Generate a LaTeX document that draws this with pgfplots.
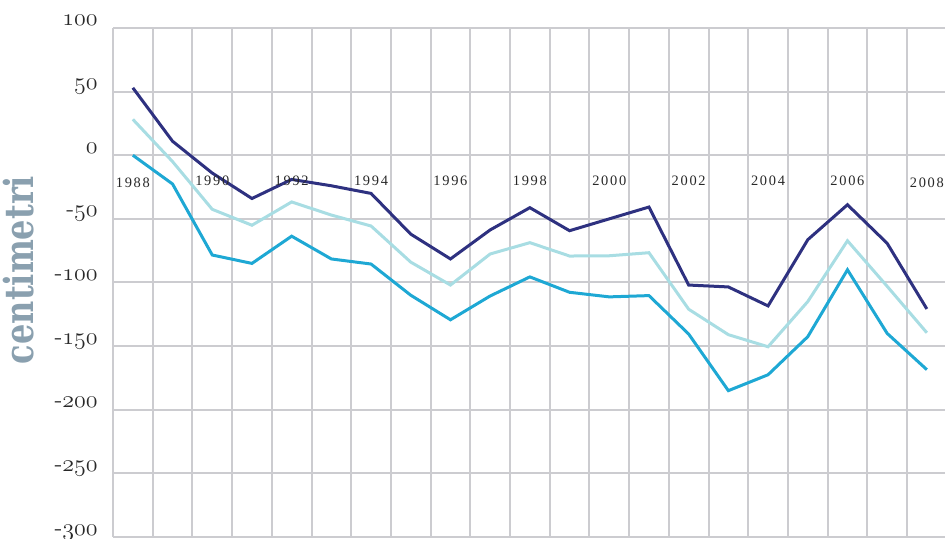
\documentclass[border=0pt]{standalone}
\usepackage{pgfplots}
\pgfplotsset{compat=1.18}
\usepackage{fontspec}
\newfontfamily\slab{DejaVu Serif}[BoldFont={DejaVu Serif Bold}]
\newfontfamily\yearfont{Liberation Serif}[LetterSpace=12]
\newcommand\osn[1]{{\usefont{OML}{cmm}{m}{it}#1}}
\definecolor{navy}{RGB}{46,49,128}
\definecolor{lightc}{RGB}{168,221,227}
\definecolor{medc}{RGB}{30,168,212}
\definecolor{gridc}{RGB}{204,204,208}
\definecolor{labc}{RGB}{138,160,175}
\definecolor{txt}{RGB}{40,40,40}
\begin{document}
\begin{tikzpicture}
\useasboundingbox (0,0) rectangle (472.5pt,269.5pt);
\node[rotate=90, anchor=base, text=labc, inner sep=0pt] at (16.8pt,134.5pt)
  {\scalebox{0.8}[1]{\fontsize{20}{22}\slab\bfseries centimetri}};
\begin{axis}[
  scale only axis, width=416.85pt, height=254.5pt,
  at={(56.5pt,1pt)}, anchor=south west,
  xmin=1987.5, xmax=2008.5, ymin=-300, ymax=100,
  axis line style={draw=none},
  xtick={1987.5,1988.5,...,2008.5}, xticklabels={},
  ytick={-300,-250,-200,-150,-100,-50,0,50,100},
  yticklabels={-\osn{300},-\osn{250},-\osn{200},-\osn{150},-\osn{100},-\osn{50},\osn{0},\osn{50},\osn{100}},
  yticklabel style={font=\fontsize{12}{14}\selectfont, text=txt, anchor=base east, inner sep=0pt, xshift=-7.5pt, yshift=1pt},
  major tick length=0pt,
  grid=major,
  grid style={draw=gridc, line width=1pt},
  clip=false,
]
\addplot[navy, line width=1.5pt] coordinates {
(1988,53) (1989,11) (1990,-14) (1991,-34) (1992,-19) (1993,-24) (1994,-30)
(1995,-62) (1996,-81.5) (1997,-58.7) (1998,-41.2) (1999,-59.3) (2000,-50)
(2001,-40.7) (2002,-102) (2003,-103.5) (2004,-118.4) (2005,-66.4) (2006,-38.9)
(2007,-69.2) (2008,-120.8)};
\addplot[lightc, line width=1.5pt] coordinates {
(1988,28.2) (1989,-5) (1990,-42.5) (1991,-55) (1992,-36.7) (1993,-47) (1994,-55.6)
(1995,-84) (1996,-102) (1997,-77.6) (1998,-68.7) (1999,-79.2) (2000,-79)
(2001,-76.6) (2002,-121) (2003,-141) (2004,-150.5) (2005,-115) (2006,-67.2)
(2007,-103) (2008,-139.5)};
\addplot[medc, line width=1.5pt] coordinates {
(1988,0) (1989,-22.6) (1990,-78.4) (1991,-85) (1992,-63.6) (1993,-81.5) (1994,-85.5)
(1995,-110) (1996,-129.3) (1997,-110.6) (1998,-95.6) (1999,-107.7) (2000,-111.3)
(2001,-110.3) (2002,-140.5) (2003,-185) (2004,-172.5) (2005,-142.6) (2006,-90)
(2007,-140) (2008,-168.5)};
\begin{scope}[every node/.style={font=\fontsize{7.2}{8}\yearfont, text=txt, anchor=base, inner sep=0pt}]
\node at (axis cs:1988,-25.7) {1988};
\node at (axis cs:1990,-23.4) {1990};
\node at (axis cs:1992,-23.4) {1992};
\node at (axis cs:1994,-23.4) {1994};
\node at (axis cs:1996,-23.4) {1996};
\node at (axis cs:1998,-23.4) {1998};
\node at (axis cs:2000,-23.4) {2000};
\node at (axis cs:2002,-23.4) {2002};
\node at (axis cs:2004,-23.4) {2004};
\node at (axis cs:2006,-23.4) {2006};
\node at (axis cs:2008,-25.7) {2008};
\end{scope}
\end{axis}
\end{tikzpicture}
\end{document}
